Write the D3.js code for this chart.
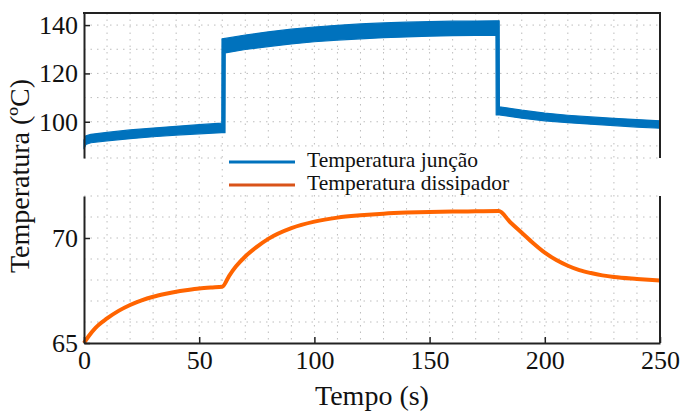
<!DOCTYPE html>
<html>
<head>
<meta charset="utf-8">
<script src="https://cdn.jsdelivr.net/npm/d3@7"></script>
<style>
  html, body { margin: 0; padding: 0; background: #fff; }
  svg { display: block; }
  text { font-family: "Liberation Serif", "Times New Roman", serif; fill: #111; }
</style>
</head>
<body>
<svg id="chart" width="681" height="411"></svg>
<script>
// ---- Data ----
const xTicks = [0, 50, 100, 150, 200, 250];
const yTicksTop = [100, 120, 140];
const yTicksBottom = [65, 70];
const legendLabels = ["Temperatura junção", "Temperatura dissipador"];
const xLabel = "Tempo (s)";
const yLabel = "Temperatura (ºC)";

// Junction temperature: envelope (upper / lower) of the fast-oscillating signal
const tJunction = [0, 0.8, 3, 10, 20, 30, 40, 50, 59.8, 59.9, 61.2, 61.3, 70, 80, 90, 100, 110, 120, 130, 140, 150, 160, 170, 178.8, 178.9, 180.2, 180.3, 190, 200, 210, 220, 230, 240, 250];
const junctionUpper = [92.5, 94.2, 94.8, 95.6, 96.6, 97.4, 98.1, 98.8, 99.4, 134.3, 134.5, 134.5, 135.9, 137.2, 138.3, 139.2, 139.9, 140.5, 140.9, 141.2, 141.4, 141.6, 141.7, 141.8, 141.8, 141.8, 106.2, 104.8, 103.6, 102.7, 102.0, 101.4, 100.9, 100.4];
const junctionLower = [88.8, 90.6, 91.3, 92.1, 93.0, 93.8, 94.5, 95.0, 95.5, 95.5, 95.5, 128.5, 129.9, 131.1, 132.2, 133.1, 133.8, 134.3, 134.8, 135.1, 135.4, 135.6, 135.7, 135.8, 102.8, 102.8, 102.8, 101.5, 100.4, 99.6, 99.0, 98.4, 97.8, 97.3];

// Heatsink temperature
const tDissipador = [0, 2, 5, 10, 15, 20, 25, 30, 35, 40, 45, 50, 55, 60, 63, 66, 70, 75, 80, 90, 100, 110, 120, 130, 140, 150, 160, 170, 180, 185, 190, 195, 200, 205, 210, 215, 220, 225, 230, 240, 250];
const tempDissipador = [65.0, 65.32, 65.72, 66.17, 66.53, 66.81, 67.03, 67.2, 67.33, 67.44, 67.52, 67.59, 67.64, 67.68, 68.2, 68.65, 69.12, 69.58, 69.96, 70.47, 70.78, 70.97, 71.08, 71.16, 71.21, 71.24, 71.26, 71.27, 71.28, 70.75, 70.25, 69.75, 69.3, 68.95, 68.68, 68.47, 68.33, 68.22, 68.14, 68.05, 67.98];

// ---- Drawing ----
const svg = d3.select("#chart");
const colJ = "#0072BD", colD = "#FF6400", colDLegend = "#D95319";
const axisColor = "#222";

const x = d3.scaleLinear().domain([0, 250]).range([84, 660]);
const yTop = d3.scaleLinear().domain([85, 145]).range([158, 13]);
const yBot = d3.scaleLinear().domain([65, 72]).range([343, 196]);

const grid = svg.append("g").attr("stroke", "#bdbdbd").attr("stroke-width", 1)
  .attr("stroke-dasharray", "1.5,5");
// vertical grid (through both panels)
grid.selectAll("line.v").data(d3.range(10, 250, 10)).join("line")
  .attr("x1", d => x(d)).attr("x2", d => x(d)).attr("y1", 13).attr("y2", 343);
// top panel horizontal grid
grid.selectAll("line.ht").data(d3.range(90, 145, 10).concat([85])).join("line").attr("class","ht")
  .attr("x1", 84).attr("x2", 660).attr("y1", d => yTop(d)).attr("y2", d => yTop(d));
// bottom panel horizontal grid
grid.selectAll("line.hb").data(d3.range(66, 73, 1)).join("line").attr("class","hb")
  .attr("x1", 84).attr("x2", 660).attr("y1", d => yBot(d)).attr("y2", d => yBot(d));

// Junction band
const jData = tJunction.map((t, i) => ({ t, hi: junctionUpper[i], lo: junctionLower[i] }));
const area = d3.area().x(d => x(d.t)).y0(d => yTop(d.lo)).y1(d => yTop(d.hi));
svg.append("path").datum(jData).attr("d", area)
  .attr("fill", colJ).attr("stroke", colJ).attr("stroke-width", 1.2).attr("stroke-linejoin", "round");

// Dissipador line
const dData = tDissipador.map((t, i) => ({ t, v: tempDissipador[i] }));
svg.append("path").datum(dData)
  .attr("d", d3.line().x(d => x(d.t)).y(d => yBot(d.v)).curve(d3.curveMonotoneX))
  .attr("fill", "none").attr("stroke", colD).attr("stroke-width", 4).attr("stroke-linejoin", "round");

// Axes
function styleAxis(g) {
  g.attr("font-family", null);
  g.selectAll(".domain").attr("stroke", axisColor).attr("stroke-width", 2);
  g.selectAll(".tick line").attr("stroke", axisColor).attr("stroke-width", 1.5);
  g.selectAll(".tick text").attr("font-size", 26).attr("fill", "#111");
}
const fmt = d3.format("d");
svg.append("g").attr("transform", "translate(84,0)")
  .call(d3.axisLeft(yTop).tickValues(yTicksTop).tickFormat(fmt).tickSizeInner(-6).tickSizeOuter(0).tickPadding(6))
  .call(styleAxis);
svg.append("g").attr("transform", "translate(84,0)")
  .call(d3.axisLeft(yBot).tickValues(yTicksBottom).tickFormat(fmt).tickSizeInner(-6).tickSizeOuter(0).tickPadding(6))
  .call(styleAxis);
svg.append("g").attr("transform", "translate(0,343)")
  .call(d3.axisBottom(x).tickValues(xTicks).tickFormat(fmt).tickSizeInner(-6).tickSizeOuter(0).tickPadding(8))
  .call(styleAxis);

// Borders: top, right (top panel), right (bottom panel)
const border = svg.append("g").attr("stroke", axisColor).attr("stroke-width", 2);
border.append("line").attr("x1", 83).attr("x2", 661).attr("y1", yTop(145)).attr("y2", yTop(145));
border.append("line").attr("x1", 660).attr("x2", 660).attr("y1", yTop(145)).attr("y2", yTop(85));
border.append("line").attr("x1", 660).attr("x2", 660).attr("y1", yBot(72)).attr("y2", yBot(65));

// Legend
const lg = svg.append("g");
lg.append("rect").attr("x", 225).attr("y", 148).attr("width", 295).attr("height", 46).attr("fill", "#fff");
const legendColors = [colJ, colDLegend];
legendLabels.forEach((lab, i) => {
  const yy = 162 + i * 23;
  lg.append("line").attr("x1", 229).attr("x2", 295).attr("y1", yy).attr("y2", yy)
    .attr("stroke", legendColors[i]).attr("stroke-width", 3);
  lg.append("text").attr("x", 307).attr("y", yy + 4.5).attr("font-size", 21.5).text(lab);
});

// Axis labels
svg.append("text").attr("x", x(125)).attr("y", 405).attr("text-anchor", "middle")
  .attr("font-size", 28).text(xLabel);
svg.append("text").attr("transform", "translate(29,176) rotate(-90)").attr("text-anchor", "middle")
  .attr("font-size", 28).text(yLabel);
</script>
</body>
</html>
